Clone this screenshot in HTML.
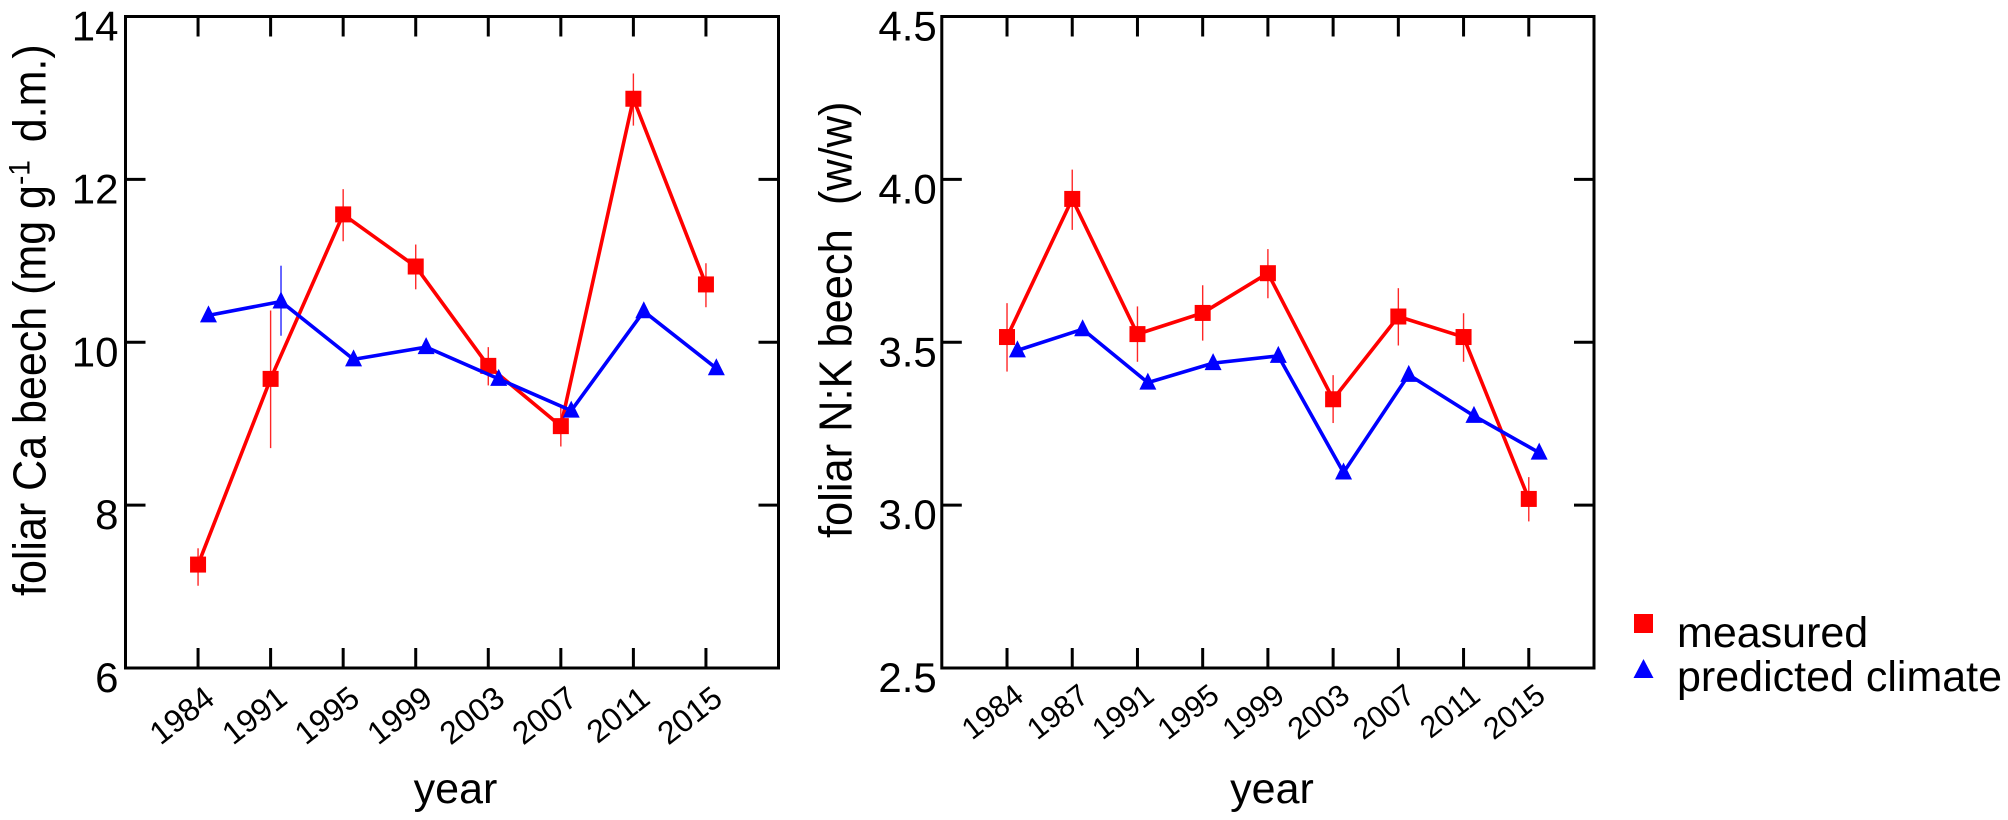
<!DOCTYPE html>
<html lang="en">
<head>
<meta charset="utf-8">
<title>Foliar Ca and N:K in beech</title>
<style>
html,body{margin:0;padding:0;background:#fff;}
svg{display:block;}
text{font-family:"Liberation Sans",Arial,sans-serif;fill:#000;white-space:pre;}
</style>
</head>
<body>
<svg id="chart" xmlns="http://www.w3.org/2000/svg" width="2008" height="820" viewBox="0 0 2008 820">
  <g id="panel-ca"></g>
  <g id="panel-nk"></g>
  <text transform="translate(45.5,596) rotate(-90) scale(1,1.07)" font-size="43">foliar Ca beech (mg g<tspan font-size="28" dy="-15">-1</tspan><tspan dy="15" dx="6"> d.m.)</tspan></text>
  <text transform="translate(851.5,538) rotate(-90) scale(1,1.07)" font-size="43.4">foliar N:K beech  (w/w)</text>
  <text x="455.5" y="803" font-size="43" text-anchor="middle">year</text>
  <text x="1272" y="803" font-size="43" text-anchor="middle">year</text>
  <g>
    <rect x="1634" y="614" width="19" height="19" fill="#ff0000"/>
    <text x="1677" y="647" font-size="43">measured</text>
    <polygon points="1643.5,659 1653.5,678 1633.5,678" fill="#0000ff"/>
    <text x="1677" y="691" font-size="43">predicted climate</text>
  </g>
</svg>
<script>
var caYears = ['1984','1991','1995','1999','2003','2007','2011','2015'];
var caMeasured = [7.27,9.55,11.57,10.93,9.71,8.97,12.99,10.71];
var caMeasuredHigh = [7.47,10.39,11.88,11.2,9.94,9.2,13.3,10.97];
var caMeasuredLow = [7.01,8.70,11.24,10.65,9.47,8.72,12.66,10.43];
var caPredicted = [10.33,10.5,9.79,9.94,9.55,9.16,10.38,9.68];
var caPredictedHigh = [null,10.94,null,null,null,null,null,null];
var caPredictedLow = [null,10.08,null,null,null,null,null,null];
var caTicks = [6,8,10,12,14];
var caTickLabels = ['6','8','10','12','14'];

var nkYears = ['1984','1987','1991','1995','1999','2003','2007','2011','2015'];
var nkMeasured = [3.516,3.94,3.525,3.59,3.712,3.325,3.579,3.516,3.019];
var nkMeasuredHigh = [3.62,4.03,3.61,3.675,3.786,3.399,3.666,3.589,3.086];
var nkMeasuredLow = [3.41,3.845,3.44,3.505,3.635,3.252,3.49,3.44,2.95];
var nkPredicted = [3.475,3.54,3.376,3.436,3.458,3.10,3.40,3.274,3.161];
var nkPredictedHigh = [null,null,null,null,null,null,null,null,null];
var nkPredictedLow = [null,null,null,null,null,null,null,null,null];
var nkTicks = [2.5,3.0,3.5,4.0,4.5];
var nkTickLabels = ['2.5','3.0','3.5','4.0','4.5'];

var NS = 'http://www.w3.org/2000/svg';
function make(parent, tag, attrs) {
  var el = document.createElementNS(NS, tag);
  for (var k in attrs) { el.setAttribute(k, attrs[k]); }
  parent.appendChild(el);
  return el;
}

function drawPanel(root, frame, cfg) {
  var yMin = cfg.ticks[0];
  var yMax = cfg.ticks[cfg.ticks.length - 1];
  function yScale(v) {
    return frame.bottom - (v - yMin) / (yMax - yMin) * (frame.bottom - frame.top);
  }
  function xScale(i) {
    return frame.left + (i + 1) * (frame.right - frame.left) / frame.slots;
  }

  cfg.ticks.forEach(function (t, i) {
    var y = yScale(t);
    if (i > 0 && i < cfg.ticks.length - 1) {
      var tl = make(root, 'line', {x1: frame.left, x2: frame.left + 20, y1: y, y2: y, stroke: '#000', 'stroke-width': 3});
      
      
      var tr = make(root, 'line', {x1: frame.right - 20, x2: frame.right, y1: y, y2: y, stroke: '#000', 'stroke-width': 3});
      
      
    }
    var lab = make(root, 'text', {x: frame.left - cfg.yLabelGap, y: y + 24, 'font-size': 42, 'text-anchor': 'end'});
    lab.textContent = cfg.tickLabels[i];
    
    
  });

  cfg.years.forEach(function (yr, i) {
    var x = xScale(i);
    var tb = make(root, 'line', {x1: x, x2: x, y1: frame.bottom - 20, y2: frame.bottom, stroke: '#000', 'stroke-width': 3});
    
    
    var tt = make(root, 'line', {x1: x, x2: x, y1: frame.top, y2: frame.top + 20, stroke: '#000', 'stroke-width': 3});
    
    
    var lab = make(root, 'text', {
      'font-size': cfg.xFont,
      'text-anchor': 'end',
      transform: 'translate(' + (x + 18.5) + ',' + (frame.bottom + cfg.xLabelDrop) + ') rotate(-38)'
    });
    lab.textContent = yr;
    
    
  });

  var box = make(root, 'rect', {
    x: frame.left, y: frame.top,
    width: frame.right - frame.left, height: frame.bottom - frame.top,
    fill: 'none', stroke: '#000', 'stroke-width': 3
  });
  
  

  drawSeries(root, cfg.measured, cfg.measuredHigh, cfg.measuredLow, '#ff0000', 0, 'measured', xScale, yScale);
  drawSeries(root, cfg.predicted, cfg.predictedHigh, cfg.predictedLow, '#0000ff', 10.4, 'predicted', xScale, yScale);
}

function drawSeries(root, values, highs, lows, color, shift, kind, xScale, yScale) {
  var g = make(root, 'g', {});
  
  

  values.forEach(function (v, i) {
    if (highs[i] === null) { return; }
    var x = xScale(i) + shift;
    var e = make(g, 'line', {x1: x, x2: x, y1: yScale(highs[i]), y2: yScale(lows[i]), stroke: color, 'stroke-width': 1.4, 'stroke-opacity': 0.85});
    
    
  });

  var pts = values.map(function (v, i) {
    return (xScale(i) + shift) + ',' + yScale(v);
  }).join(' ');
  var line = make(g, 'polyline', {points: pts, fill: 'none', stroke: color, 'stroke-width': 3.6, 'stroke-linejoin': 'miter'});
  
  

  values.forEach(function (v, i) {
    var x = xScale(i) + shift;
    var y = yScale(v);
    var m;
    if (kind === 'measured') {
      m = make(g, 'rect', {x: x - 8, y: y - 8, width: 16, height: 16, fill: color});
    } else {
      m = make(g, 'polygon', {points: x + ',' + (y - 10) + ' ' + (x + 8.5) + ',' + (y + 7) + ' ' + (x - 8.5) + ',' + (y + 7), fill: color});
    }
    
    
  });
}

drawPanel(document.getElementById('panel-ca'), {left: 125.5, right: 778.5, top: 16.5, bottom: 668, slots: 9}, {
  years: caYears, xFont: 32, xLabelDrop: 34, yLabelGap: 7, ticks: caTicks, tickLabels: caTickLabels,
  measured: caMeasured, measuredHigh: caMeasuredHigh, measuredLow: caMeasuredLow,
  predicted: caPredicted, predictedHigh: caPredictedHigh, predictedLow: caPredictedLow
});
drawPanel(document.getElementById('panel-nk'), {left: 941.8, right: 1594, top: 16.5, bottom: 668, slots: 10}, {
  years: nkYears, xFont: 30.5, xLabelDrop: 31, yLabelGap: 5, ticks: nkTicks, tickLabels: nkTickLabels,
  measured: nkMeasured, measuredHigh: nkMeasuredHigh, measuredLow: nkMeasuredLow,
  predicted: nkPredicted, predictedHigh: nkPredictedHigh, predictedLow: nkPredictedLow
});
</script>
</body>
</html>
